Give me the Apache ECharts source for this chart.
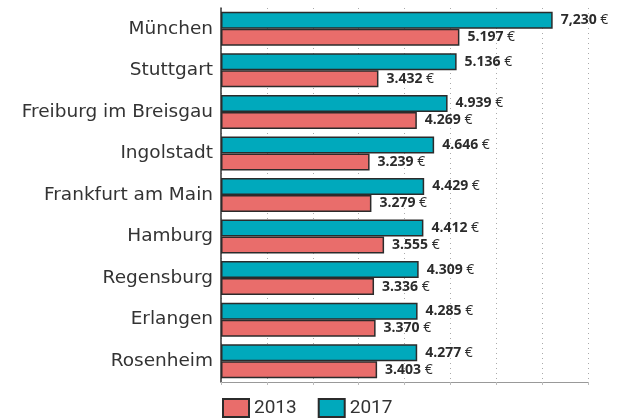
<!DOCTYPE html>
<html>
<head>
<meta charset="utf-8">
<script src="https://cdn.jsdelivr.net/npm/echarts@6/dist/echarts.min.js"></script>
<style>
  html, body { margin: 0; padding: 0; background: #ffffff; }
  #chart { width: 625px; height: 418px; }
</style>
</head>
<body>
<div id="chart"></div>
<script>
var cities = ['München', 'Stuttgart', 'Freiburg im Breisgau', 'Ingolstadt', 'Frankfurt am Main', 'Hamburg', 'Regensburg', 'Erlangen', 'Rosenheim']
var values2013 = [5197, 3432, 4269, 3239, 3279, 3555, 3336, 3370, 3403]
var values2017 = [7230, 5136, 4939, 4646, 4429, 4412, 4309, 4285, 4277]
var labels2013 = ['5.197', '3.432', '4.269', '3.239', '3.279', '3.555', '3.336', '3.370', '3.403']
var labels2017 = ['7,230', '5.136', '4.939', '4.646', '4.429', '4.412', '4.309', '4.285', '4.277']

var myChart = echarts.init(document.getElementById('chart'))

function barLabel(texts) {
  return {
    show: true,
    position: 'right',
    distance: 8,
    formatter: function(p) {
      return '{b|' + texts[p.dataIndex] + '}{e| €}'
    },
    rich: {
      b: { fontFamily: 'Open Sans', fontWeight: 'bold', fontSize: 14, color: '#2b2b2b' },
      e: { fontFamily: 'Open Sans', fontSize: 14, color: '#2b2b2b' }
    }
  }
}

var option = {
  backgroundColor: '#ffffff',
  animation: false,
  grid: { left: 221, right: 37, top: 8, bottom: 36 },
  legend: {
    data: ['2013', '2017'],
    icon: 'rect',
    left: 222,
    top: 398,
    padding: 0,
    itemWidth: 26,
    itemHeight: 18,
    itemGap: 21,
    textStyle: { fontFamily: 'Roboto', fontSize: 19, color: '#333333' }
  },
  xAxis: {
    type: 'value',
    min: 0,
    max: 8000,
    interval: 1000,
    axisLabel: { show: false },
    axisLine: { show: true, lineStyle: { color: '#999999', width: 1 } },
    axisTick: { show: true, length: 3, lineStyle: { color: '#bbbbbb' } },
    splitLine: { show: true, lineStyle: { color: '#aaaaaa', type: [1, 4], width: 1 } }
  },
  yAxis: {
    type: 'category',
    data: cities,
    inverse: true,
    axisLine: { show: true, lineStyle: { color: '#333333', width: 1.5 } },
    axisTick: { show: false },
    axisLabel: { fontFamily: 'DejaVu Sans', fontSize: 18.5, color: '#333333', margin: 8 }
  },
  series: [
    {
      name: '2017',
      type: 'bar',
      data: values2017,
      barWidth: 17,
      barGap: '0%',
      itemStyle: { color: '#00a9bc', borderColor: '#2b2b2b', borderWidth: 1.5 },
      label: barLabel(labels2017)
    },
    {
      name: '2013',
      type: 'bar',
      data: values2013,
      barWidth: 17,
      barGap: '0%',
      itemStyle: { color: '#e96d6b', borderColor: '#2b2b2b', borderWidth: 1.5 },
      label: barLabel(labels2013)
    }
  ]
}
myChart.setOption(option, true)
window.addEventListener('resize', () => {
  myChart.resize()
})
</script>
</body>
</html>
